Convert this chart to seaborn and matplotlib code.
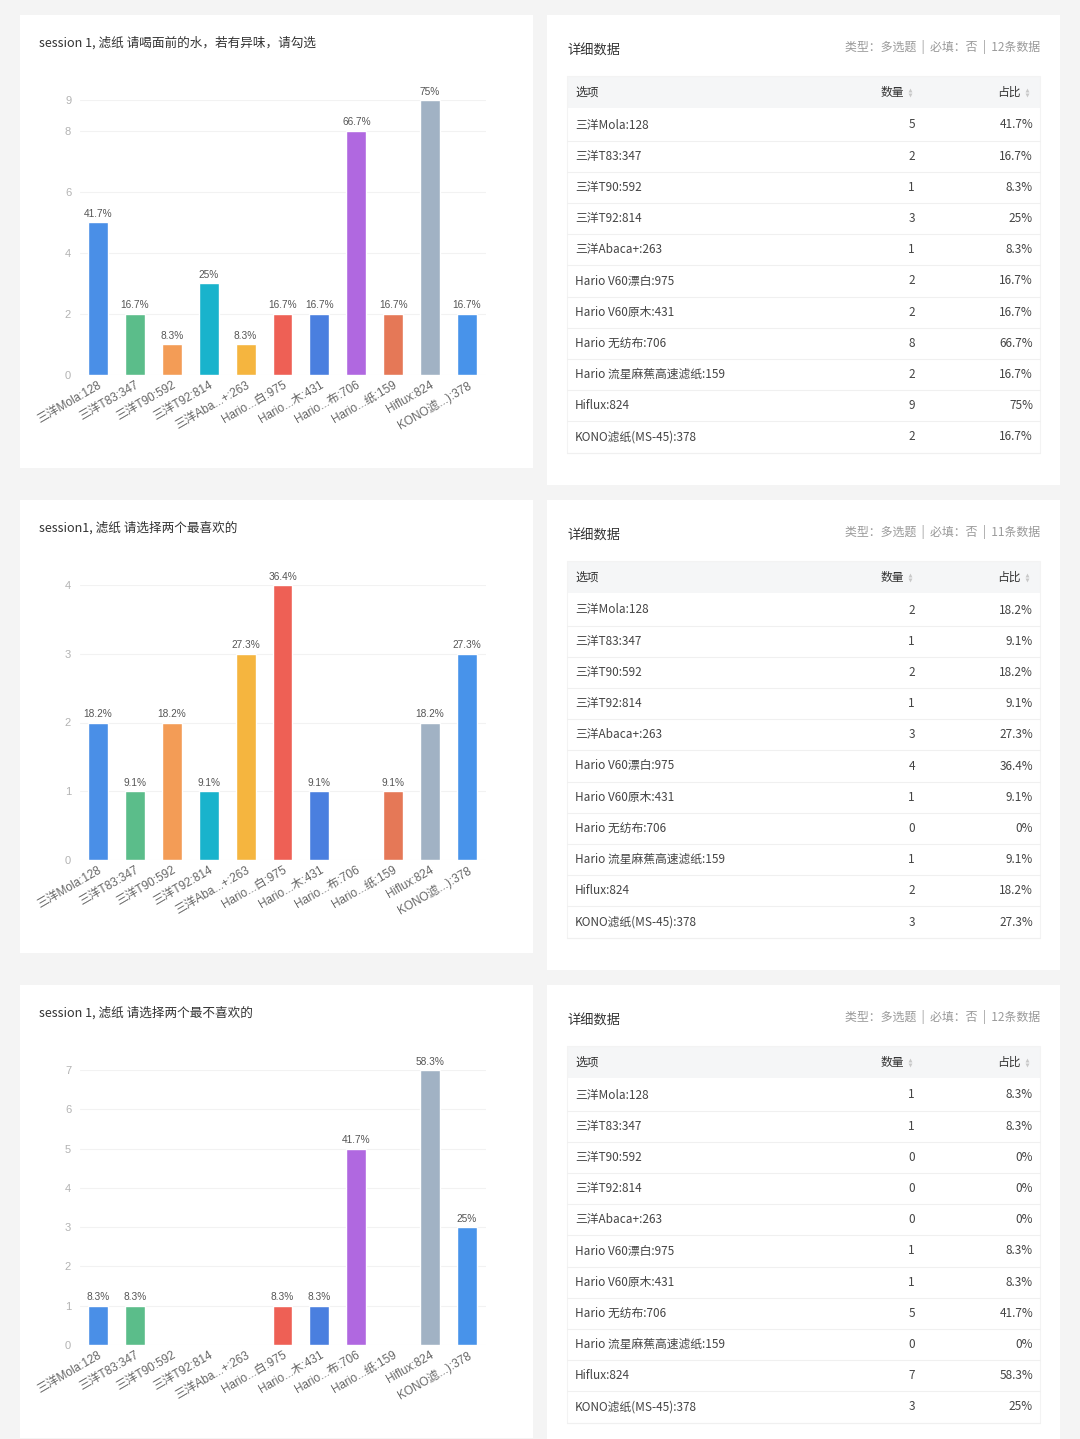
import pandas as pd
import matplotlib
matplotlib.use('Agg')
import matplotlib.pyplot as plt
from matplotlib.patches import Rectangle
import seaborn as sns

# 选项（图表用缩写，表格用全称）
short_labels = ['三洋Mola:128', '三洋T83:347', '三洋T90:592', '三洋T92:814', '三洋Aba...+:263',
                'Hario...白:975', 'Hario...木:431', 'Hario...布:706', 'Hario...纸:159',
                'Hiflux:824', 'KONO滤...):378']
full_names = ['三洋Mola:128', '三洋T83:347', '三洋T90:592', '三洋T92:814', '三洋Abaca+:263',
              'Hario V60漂白:975', 'Hario V60原木:431', 'Hario 无纺布:706',
              'Hario 流星麻蕉高速滤纸:159', 'Hiflux:824', 'KONO滤纸(MS-45):378']
bar_colors = ['#4a8fe7', '#5bbd8a', '#f39c56', '#19b3cc', '#f5b53f', '#ee6055',
              '#4a7fdf', '#b068e0', '#e57857', '#a1b2c4', '#4893ea']

# 三个问题
titles = ['session 1, 滤纸 请喝面前的水，若有异味，请勾选',
          'session1, 滤纸 请选择两个最喜欢的',
          'session 1, 滤纸 请选择两个最不喜欢的']
meta_texts = ['类型：多选题  |  必填：否  |  12条数据',
              '类型：多选题  |  必填：否  |  11条数据',
              '类型：多选题  |  必填：否  |  12条数据']

counts_1 = [5, 2, 1, 3, 1, 2, 2, 8, 2, 9, 2]
pcts_1 = ['41.7%', '16.7%', '8.3%', '25%', '8.3%', '16.7%', '16.7%', '66.7%', '16.7%', '75%', '16.7%']
yticks_1 = [0, 2, 4, 6, 8, 9]

counts_2 = [2, 1, 2, 1, 3, 4, 1, 0, 1, 2, 3]
pcts_2 = ['18.2%', '9.1%', '18.2%', '9.1%', '27.3%', '36.4%', '9.1%', '0%', '9.1%', '18.2%', '27.3%']
yticks_2 = [0, 1, 2, 3, 4]

counts_3 = [1, 1, 0, 0, 0, 1, 1, 5, 0, 7, 3]
pcts_3 = ['8.3%', '8.3%', '0%', '0%', '0%', '8.3%', '8.3%', '41.7%', '0%', '58.3%', '25%']
yticks_3 = [0, 1, 2, 3, 4, 5, 6, 7]

sections = [(titles[0], meta_texts[0], counts_1, pcts_1, yticks_1),
            (titles[1], meta_texts[1], counts_2, pcts_2, yticks_2),
            (titles[2], meta_texts[2], counts_3, pcts_3, yticks_3)]

sns.set_style('white')
plt.rcParams['font.family'] = ['Noto Sans CJK SC', 'DejaVu Sans']

W, H = 1080, 1439
fig = plt.figure(figsize=(W / 100, H / 100), dpi=100, facecolor='#f4f4f4')

# 背景层：卡片和表格都按像素坐标画
bg = fig.add_axes([0, 0, 1, 1])
bg.set_xlim(0, W)
bg.set_ylim(H, 0)
bg.axis('off')
bg.set_zorder(0)

chart_font = ['Liberation Sans', 'Noto Sans CJK SC']


def px_axes(x0, y0, x1, y1):
    return fig.add_axes([x0 / W, 1 - y1 / H, (x1 - x0) / W, (y1 - y0) / H])


for k, (title, meta, counts, pcts, yticks) in enumerate(sections):
    off = 485 * k

    # 卡片
    bg.add_patch(Rectangle((20, 15 + off), 513, 453, facecolor='white', edgecolor='none'))
    bg.add_patch(Rectangle((547, 15 + off), 513, 470, facecolor='white', edgecolor='none'))

    # ---- 左侧柱状图 ----
    bg.text(39, 43 + off, title, fontsize=9.1, color='#333333', va='center', ha='left')

    df = pd.DataFrame({'option': short_labels, 'count': counts})
    ax = px_axes(79.5, 100 + off, 485.5, 375 + off)
    ax.set_facecolor('none')
    sns.barplot(data=df, x='option', y='count', hue='option', palette=bar_colors,
                dodge=False, legend=False, width=0.54, saturation=1, ax=ax)
    ax.set_xlim(-0.5, len(short_labels) - 0.5)
    ax.set_ylim(0, yticks[-1])
    ax.set_yticks(yticks)
    ax.grid(axis='y', color='#f2f2f2', linewidth=0.8)
    ax.set_axisbelow(True)
    for s in ax.spines.values():
        s.set_visible(False)
    ax.set_xlabel('')
    ax.set_ylabel('')
    ax.tick_params(axis='y', length=0, pad=6, labelsize=8, labelcolor='#b3b3b3')
    ax.tick_params(axis='x', length=0, pad=3)
    ax.set_xticks(range(len(short_labels)))
    ax.set_xticklabels(short_labels, rotation=30, ha='right', va='top',
                       rotation_mode='anchor', fontsize=8.5, color='#666666',
                       family=chart_font)
    for lab in ax.get_yticklabels():
        lab.set_family(chart_font)
    for i, (v, p) in enumerate(zip(counts, pcts)):
        if v > 0:
            ax.annotate(p, (i, v), xytext=(0, 2.5), textcoords='offset points',
                        ha='center', va='bottom', fontsize=7.3, color='#555555',
                        family=chart_font)

    # ---- 右侧详细数据表 ----
    bg.text(567, 51 + off, '详细数据', fontsize=9.5, color='#333333', va='center', ha='left')
    bg.text(1040, 47 + off, meta, fontsize=8.6, color='#9a9a9a', va='center', ha='right')

    tx0, tx1 = 567, 1040
    bg.add_patch(Rectangle((tx0, 76 + off), tx1 - tx0, 32, facecolor='#f5f6f7', edgecolor='none'))
    bg.text(575, 92 + off, '选项', fontsize=8.5, color='#333333', va='center', ha='left')
    bg.text(904, 92 + off, '数量', fontsize=8.5, color='#333333', va='center', ha='right')
    bg.text(1021, 92 + off, '占比', fontsize=8.5, color='#333333', va='center', ha='right')
    for sx in (910, 1027):
        bg.plot([sx], [89.5 + off], marker='^', ms=2.8, color='#c8c8c8', mew=0)
        bg.plot([sx], [94.5 + off], marker='v', ms=2.8, color='#c8c8c8', mew=0)

    row_h = 31.2
    for i, (name, v, p) in enumerate(zip(full_names, counts, pcts)):
        cy = 125 + off + row_h * i
        bg.text(575, cy, name, fontsize=8.5, color='#444444', va='center', ha='left')
        bg.text(915, cy, str(v), fontsize=8.5, color='#444444', va='center', ha='right')
        bg.text(1033, cy, p, fontsize=8.5, color='#444444', va='center', ha='right')
        ly = cy + row_h / 2
        bg.plot([tx0, tx1], [ly, ly], color='#f0f0f0', linewidth=0.8)
    table_bottom = 125 + off + row_h * (len(full_names) - 0.5)
    bg.add_patch(Rectangle((tx0, 76 + off), tx1 - tx0, table_bottom - 76 - off,
                           facecolor='none', edgecolor='#f3f3f3', linewidth=0.8))

fig.savefig('out.png', dpi=100, facecolor=fig.get_facecolor())
